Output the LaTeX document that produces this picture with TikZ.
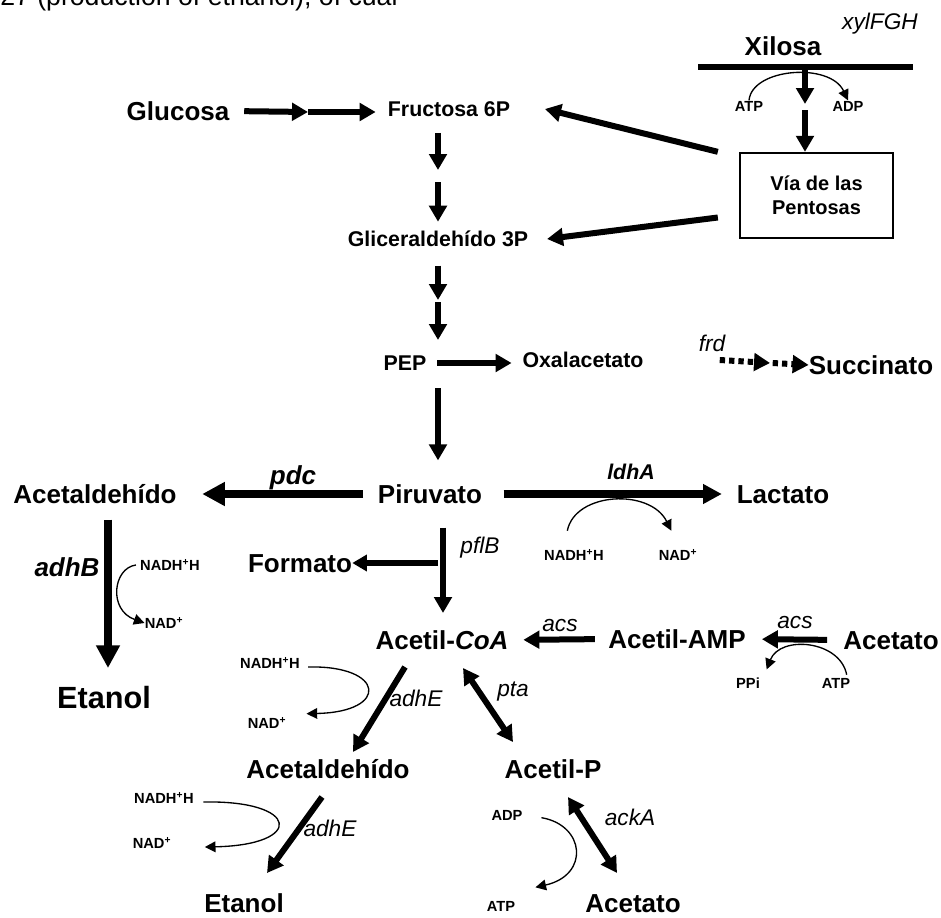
\documentclass[tikz,border=0pt]{standalone}
\usepackage{fontspec}
\setmainfont{Liberation Sans}
\usetikzlibrary{arrows.meta}

\begin{document}
\begin{tikzpicture}[x=0.75pt,y=-0.75pt,
    met/.style={font=\bfseries\fontsize{19.5}{22}\selectfont,inner sep=0pt,text height=14pt,text depth=0pt},
    mid/.style={font=\bfseries\fontsize{16}{18}\selectfont,inner sep=0pt,text height=11.5pt,text depth=0pt},
    etn/.style={font=\bfseries\fontsize{23}{26}\selectfont,inner sep=0pt,text height=16.5pt,text depth=0pt},
    cof/.style={font=\bfseries\fontsize{11}{12}\selectfont,inner sep=0pt,text height=8pt,text depth=0pt},
    gen/.style={font=\itshape\fontsize{17}{18}\selectfont,inner sep=0pt,text height=12pt,text depth=0pt},
    bgen/.style={font=\bfseries\itshape\fontsize{19.5}{22}\selectfont,inner sep=0pt,text height=14pt,text depth=0pt},
    thk/.style={line width=4.5pt,-{Triangle[length=12pt,width=13pt]}},
    big/.style={line width=6pt,-{Triangle[length=17pt,width=17pt]}},
    thn/.style={line width=1pt,-{Triangle[length=8pt,width=8pt]}},
    dbl/.style={line width=4.5pt,{Triangle[length=12pt,width=13pt]}-{Triangle[length=12pt,width=13pt]}}]
  \useasboundingbox (0,0) rectangle (941,917);
  \node[anchor=base west,inner sep=0pt,font=\fontsize{20}{22}\selectfont] (hdr) at (0,6) {27 (production of ethanol), of cual};

  % xylose uptake
  \node[met] (xyl) at (783,46) {Xilosa};
  \node[gen] (xylg) at (880,22) {xylFGH};
  \coordinate (memL) at (698,67);
  \coordinate (memR) at (913,67);
  \draw[line width=4.5pt] (memL) -- (memR);
  \node[cof] (atp1) at (749,106) {ATP};
  \node[cof] (adp1) at (848,106) {ADP};
  \node[draw,line width=1.5pt,minimum width=115pt,minimum height=64pt,align=center,
        font=\bfseries\fontsize{15}{18}\selectfont] (ppp) at (816.5,195.5) {Vía de las\\Pentosas};
  \coordinate (x1) at (805,70);
  \coordinate (x2) at (805,104);
  \coordinate (x3) at (805,110);
  \draw[thk] (x1) -- (x2);
  \draw[thk] (x3) -- (x3 |- ppp.north);
  \draw[thn] (atp1.north) .. controls (752,68) and (830,62) .. (adp1.north);

  % glucolisis
  \node[met] (glc) at (178,111) {Glucosa};
  \node[mid] (f6p) at (449,109) {Fructosa 6P};
  \node[mid] (g3p) at (438,239) {Gliceraldehído 3P};
  \node[mid] (pep) at (405,363) {PEP};
  \node[mid] (oaa) at (583,360) {Oxalacetato};
  \node[met] (suc) at (871,365) {Succinato};
  \node[gen] (frd) at (712,343) {frd};
  \coordinate (g1) at (308,112);
  \draw[thk,shorten <=11pt] (glc.east) -- (g1);
  \draw[thk,shorten >=9pt] (g1) -- (g1 -| f6p.west);
  \coordinate (c1) at (438,170);
  \coordinate (c2) at (438,182);
  \coordinate (c3) at (438,300);
  \coordinate (c4) at (438,302);
  \draw[thk] (c1 |- f6p.south) ++(0,16) -- (c1);
  \draw[thk] (c2) -- ([yshift=7pt]c2 |- g3p.north);
  \draw[thk] ([yshift=-14pt]c3 |- g3p.south) -- (c3);
  \draw[thk] (c4) -- (438,340);
  \draw[thk] (ppp.north west) ++(-21,0) -- ([xshift=26pt]f6p.east);
  \draw[thk] (ppp.west) ++(-21,22) -- ([xshift=14pt]g3p.east);
  \draw[thk,shorten <=8pt,shorten >=8pt] (pep.east) -- (pep.east -| oaa.west);
  \coordinate (s1) at (770,363);
  \draw[thk,dash pattern=on 4pt off 3pt] ([xshift=57pt]oaa.east) -- (s1);
  \draw[thk,dash pattern=on 4pt off 3pt] ([xshift=2pt]s1) -- (suc.west);

  % piruvato
  \node[met] (pyr) at (430,494) {Piruvato};
  \node[met] (acald) at (95,494) {Acetaldehído};
  \node[met] (lac) at (783,494) {Lactato};
  \node[met] (form) at (300,563) {Formato};
  \node[bgen] (pdc) at (293,475) {pdc};
  \node[font=\bfseries\itshape\fontsize{16}{18}\selectfont,inner sep=0pt] (ldh) at (631,472) {ldhA};
  \node[gen] (pfl) at (480,545) {pflB};
  \node[cof] (nadh1) at (574,555) {NADH\textsuperscript{+}H};
  \node[cof] (nad1) at (678,555) {NAD\textsuperscript{+}};
  \coordinate (pp) at (438,388);
  \draw[thk] (pp) -- ([yshift=18pt]pp |- pyr.north);
  \draw[big] ([xshift=-11pt]pyr.west) -- ([xshift=19pt]acald.east);
  \draw[line width=6pt,-{Triangle[length=14pt,width=14pt]}] ([xshift=16pt]pyr.east) -- ([xshift=-11pt]lac.west);
  \draw[thn] ([xshift=-5pt,yshift=14pt]nadh1.north) .. controls (575,492) and (650,488) .. ([xshift=-5pt,yshift=14pt]nad1.north);
  \coordinate (p1) at (443,563);
  \draw[thk] ([yshift=-18pt]pyr.south -| p1) -- (443,613);
  \draw[line width=5pt,-{Triangle[length=11pt,width=12pt]}] ([xshift=-4pt]p1) -- (form.east);

  % etanol (pdc / adhB)
  \node[bgen] (adhb) at (67,567) {adhB};
  \node[cof] (nadh2) at (170,565) {NADH\textsuperscript{+}H};
  \node[cof] (nad2) at (164,623) {NAD\textsuperscript{+}};
  \node[etn] (eth1) at (104,697) {Etanol};
  \coordinate (e1) at (108,668);
  \draw[big] ([yshift=-12pt]acald.south -| e1) -- (e1);
  \draw[thn] ([xshift=-3pt]nadh2.west) .. controls (113,568) and (108,610) .. (nad2.west);

  % acetil-CoA
  \node[met] (accoa) at (442,640) {Acetil-\textit{CoA}};
  \node[met] (acamp) at (677,639) {Acetil-AMP};
  \node[met] (acet) at (891,640) {Acetato};
  \node[gen] (acs1) at (560,623) {acs};
  \node[gen] (acs2) at (795,620) {acs};
  \node[cof] (ppi) at (748,683) {PPi};
  \node[cof] (atp2) at (836,683) {ATP};
  \draw[thk,shorten <=10pt,shorten >=11pt] (acamp.west) -- (accoa.east);
  \draw[thk,shorten <=12pt,shorten >=12pt] (acet.west) -- (acamp.east);
  \draw[thn] ([xshift=8pt,yshift=2pt]atp2.north) .. controls (840,640) and (780,635) .. ([xshift=14pt,yshift=6pt]ppi.north);

  % adhE
  \node[met] (acald2) at (328,769) {Acetaldehído};
  \node[met] (eth2) at (244,903) {Etanol};
  \node[gen] (adhe1) at (416,698) {adhE};
  \node[gen] (adhe2) at (330,828) {adhE};
  \node[cof] (nadh3) at (270,663) {NADH\textsuperscript{+}H};
  \node[cof] (nad3) at (267,723) {NAD\textsuperscript{+}};
  \node[cof] (nadh4) at (164,798) {NADH\textsuperscript{+}H};
  \node[cof] (nad4) at (152,843) {NAD\textsuperscript{+}};
  \coordinate (a1) at (405,667);
  \coordinate (a2) at (353,752);
  \coordinate (a3) at (322,797);
  \coordinate (a4) at (267,873);
  \draw[thk] (a1) -- (a2);
  \draw[thk] (a3) -- (a4);
  \draw[thn] ([xshift=6pt,yshift=-3pt]nadh3.east) .. controls (385,665) and (390,712) .. ([xshift=15pt,yshift=7pt]nad3.east);
  \draw[thn] ([xshift=7pt,yshift=-3pt]nadh4.east) .. controls (300,800) and (305,845) .. ([xshift=25pt,yshift=-3pt]nad4.east);

  % acetato
  \node[met] (acp) at (553,769) {Acetil-P};
  \node[met] (acet2) at (633,903) {Acetato};
  \node[gen] (pta) at (513,688) {pta};
  \node[gen] (ack) at (630,817) {ackA};
  \node[cof] (adp2) at (507,815) {ADP};
  \node[cof] (atp3) at (501,906) {ATP};
  \coordinate (t1) at (463,668);
  \coordinate (t2) at (513,742);
  \coordinate (k1) at (568,797);
  \coordinate (k2) at (617,873);
  \draw[dbl] (t1) -- (t2);
  \draw[dbl] (k1) -- (k2);
  \draw[thn] ([xshift=14pt,yshift=-2pt]adp2.east) .. controls (585,825) and (590,875) .. ([xshift=15pt,yshift=14pt]atp3.east);
\end{tikzpicture}
\end{document}
